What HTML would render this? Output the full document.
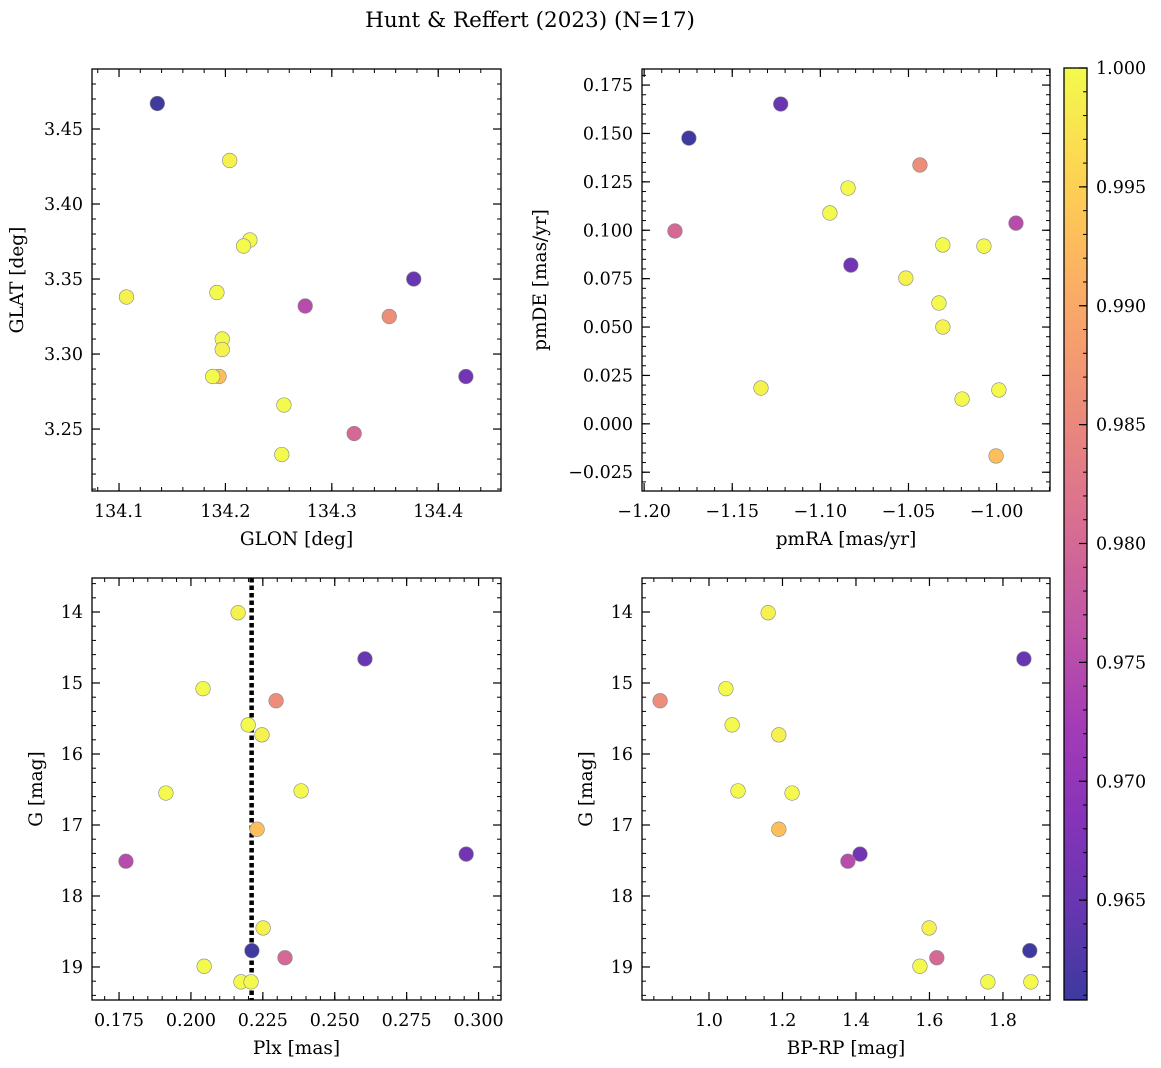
<!DOCTYPE html>
<html><head><meta charset="utf-8">
<style>
html,body{margin:0;padding:0;background:#fff;}
svg{display:block;font-family:"DejaVu Serif","Liberation Serif",serif;}
</style></head>
<body>
<svg id="fig" width="1161" height="1068" viewBox="0 0 1161 1068" xmlns="http://www.w3.org/2000/svg">
<rect width="1161" height="1068" fill="#fff"/>
<text x="530" y="27" font-size="21.5" text-anchor="middle">Hunt &amp; Reffert (2023) (N=17)</text>
</svg>
<script>
// ---- data (17 stars) ----
const glon = [134.136,134.377,134.426,134.275,134.321,134.354,134.194,134.204,134.223,134.217,134.107,134.192,134.197,134.197,134.188,134.255,134.253];
const glat = [3.467,3.350,3.285,3.332,3.247,3.325,3.285,3.429,3.376,3.372,3.338,3.341,3.310,3.303,3.285,3.266,3.233];
const pmra = [-1.1746,-1.1225,-1.0827,-0.9890,-1.1825,-1.0435,-1.0003,-1.1337,-1.0946,-1.0843,-1.0515,-1.0327,-1.0305,-1.0305,-1.0196,-1.0072,-0.9987];
const pmde = [0.1476,0.1652,0.082,0.1037,0.0996,0.1337,-0.0166,0.0185,0.1089,0.1218,0.0753,0.0624,0.0924,0.05,0.0128,0.0918,0.0175];
const plx = [0.2212,0.2605,0.2957,0.1774,0.2327,0.2296,0.2230,0.2164,0.2042,0.2199,0.2247,0.1913,0.2383,0.2251,0.2046,0.2174,0.2209];
const gmag = [18.77,14.66,17.41,17.51,18.87,15.25,17.06,14.01,15.08,15.59,15.73,16.55,16.52,18.45,18.99,19.21,19.21];
const bprp = [1.873,1.857,1.411,1.378,1.620,0.867,1.190,1.161,1.046,1.063,1.190,1.226,1.079,1.599,1.574,1.759,1.876];
const prob = [0.961,0.965,0.966,0.975,0.980,0.986,0.993,0.999,1.0,1.0,0.999,1.0,1.0,0.999,1.0,1.0,1.0];
const plxLine = 0.2211;
const cbTicks = [0.965,0.970,0.975,0.980,0.985,0.990,0.995,1.000];
const vmin = 0.9608, vmax = 1.0;

const NS="http://www.w3.org/2000/svg";
const svg=document.getElementById('fig');
function el(tag,attrs,parent){const e=document.createElementNS(NS,tag);for(const k in attrs)e.setAttribute(k,attrs[k]);(parent||svg).appendChild(e);return e;}
const stops=[[13,8,135],[65,4,157],[106,0,168],[143,13,164],[177,42,144],[204,71,120],[225,100,98],[242,132,75],[252,166,54],[252,206,37],[240,249,33]];
function plasma(t){t=Math.max(0,Math.min(1,t));const p=t*10,i=Math.min(9,Math.floor(p)),f=p-i;const a=stops[i],b=stops[i+1];
 const c=[0,1,2].map(k=>Math.round((a[k]+(b[k]-a[k])*f)*0.8+255*0.2));return `rgb(${c[0]},${c[1]},${c[2]})`;}
function fmt(v,d){let s=v.toFixed(d);if(parseFloat(s)===0)s=(0).toFixed(d);return s.replace('-','\u2212');}
const TF=17.5, LF=18.5;

function panel(o){
 const g=el('g',{});
 
 
 const X=v=>o.x0+(v-o.xmin)/(o.xmax-o.xmin)*(o.x1-o.x0);
 const Y=o.yinv? v=>o.y0+(v-o.ymin)/(o.ymax-o.ymin)*(o.y1-o.y0) : v=>o.y1-(v-o.ymin)/(o.ymax-o.ymin)*(o.y1-o.y0);
 const eps=1e-9;
 for(let k=Math.ceil(o.xmin/o.xmi-eps);k*o.xmi<=o.xmax+eps;k++){const x=X(k*o.xmi);
  el('line',{x1:x,x2:x,y1:o.y1,y2:o.y1-4,stroke:'#000','stroke-width':1},g);el('line',{x1:x,x2:x,y1:o.y0,y2:o.y0+4,stroke:'#000','stroke-width':1},g);}
 for(let k=Math.ceil(o.ymin/o.ymi-eps);k*o.ymi<=o.ymax+eps;k++){const y=Y(k*o.ymi);
  el('line',{x1:o.x0,x2:o.x0+4,y1:y,y2:y,stroke:'#000','stroke-width':1},g);el('line',{x1:o.x1,x2:o.x1-4,y1:y,y2:y,stroke:'#000','stroke-width':1},g);}
 for(let k=Math.ceil(o.xmin/o.xma-eps);k*o.xma<=o.xmax+eps;k++){const v=k*o.xma,x=X(v);
  el('line',{x1:x,x2:x,y1:o.y1,y2:o.y1-8,stroke:'#000','stroke-width':1.2},g);el('line',{x1:x,x2:x,y1:o.y0,y2:o.y0+8,stroke:'#000','stroke-width':1.2},g);
  const t=el('text',{x:x,y:o.y1+26,'font-size':TF,'text-anchor':'middle'},g);t.textContent=fmt(v,o.xd);
  
  }
 for(let k=Math.ceil(o.ymin/o.yma-eps);k*o.yma<=o.ymax+eps;k++){const v=k*o.yma,y=Y(v);
  el('line',{x1:o.x0,x2:o.x0+8,y1:y,y2:y,stroke:'#000','stroke-width':1.2},g);el('line',{x1:o.x1,x2:o.x1-8,y1:y,y2:y,stroke:'#000','stroke-width':1.2},g);
  const t=el('text',{x:o.x0-9,y:y+6,'font-size':TF,'text-anchor':'end'},g);t.textContent=fmt(v,o.yd);
  
  }
 if(o.vline!==undefined){const l=el('line',{x1:X(o.vline),x2:X(o.vline),y1:o.y0,y2:o.y1,stroke:'#000','stroke-width':4.5,'stroke-dasharray':'4.5,3'},g);
  
  }
 for(let i=0;i<o.xs.length;i++){
  const c=el('circle',{cx:X(o.xs[i]),cy:Y(o.ys[i]),r:7.3,fill:plasma((prob[i]-vmin)/(vmax-vmin)),stroke:'#888','stroke-width':0.6},g);
  
  
 }
 el('rect',{x:o.x0,y:o.y0,width:o.x1-o.x0,height:o.y1-o.y0,fill:'none',stroke:'#000','stroke-width':1.3},g);
 const xl=el('text',{x:(o.x0+o.x1)/2,y:o.y1+54,'font-size':LF,'text-anchor':'middle'},g);xl.textContent=o.xlabel;
 
 
 const yc=(o.y0+o.y1)/2;const yl=el('text',{x:o.ylx,y:yc,'font-size':LF,'text-anchor':'middle',transform:`rotate(-90 ${o.ylx} ${yc})`},g);yl.textContent=o.ylabel;
 
 
}
panel({name:'glon-glat-panel',x0:92,x1:501,y0:69,y1:491,xmin:134.0746,xmax:134.459,ymin:3.2087,ymax:3.49,xma:0.1,xmi:0.02,yma:0.05,ymi:0.01,xd:1,yd:2,xs:glon,ys:glat,xlabel:'GLON [deg]',ylabel:'GLAT [deg]',ylx:23});
panel({name:'proper-motion-panel',x0:642,x1:1050,y0:69,y1:491,xmin:-1.2012,xmax:-0.9697,ymin:-0.0347,ymax:0.1833,xma:0.05,xmi:0.01,yma:0.025,ymi:0.005,xd:2,yd:3,xs:pmra,ys:pmde,xlabel:'pmRA [mas/yr]',ylabel:'pmDE [mas/yr]',ylx:546});
panel({name:'parallax-magnitude-panel',x0:92,x1:501,y0:578,y1:1000,xmin:0.1656,xmax:0.3078,ymin:13.521,ymax:19.465,yinv:true,xma:0.025,xmi:0.005,yma:1,ymi:0.2,xd:3,yd:0,xs:plx,ys:gmag,xlabel:'Plx [mas]',ylabel:'G [mag]',ylx:42,vline:plxLine});
panel({name:'color-magnitude-panel',x0:642,x1:1050,y0:578,y1:1000,xmin:0.8177,xmax:1.928,ymin:13.521,ymax:19.465,yinv:true,xma:0.2,xmi:0.05,yma:1,ymi:0.2,xd:1,yd:0,xs:bprp,ys:gmag,xlabel:'BP-RP [mag]',ylabel:'G [mag]',ylx:592});

// colorbar
const cb=el('g',{});


const defs=el('defs',{},cb);const lg=el('linearGradient',{id:'cbg',x1:0,y1:1,x2:0,y2:0},defs);
for(let i=0;i<=20;i++)el('stop',{offset:i/20,'stop-color':plasma(i/20)},lg);
const cy0=68,cy1=1000,cx0=1064,cx1=1087;
const CY=v=>cy1-(v-vmin)/(vmax-vmin)*(cy1-cy0);
for(let k=961;k<=1000;k++){const y=CY(k/1000);el('line',{x1:cx1,x2:cx1-4,y1:y,y2:y,stroke:'#000','stroke-width':1},cb);}
el('rect',{x:cx0,y:cy0,width:cx1-cx0,height:cy1-cy0,fill:'url(#cbg)'},cb);
for(let k=961;k<=1000;k++){const y=CY(k/1000);el('line',{x1:cx1,x2:cx1-4,y1:y,y2:y,stroke:'#000','stroke-width':1},cb);}
cbTicks.forEach(v=>{const y=CY(v);el('line',{x1:cx1,x2:cx1-8,y1:y,y2:y,stroke:'#000','stroke-width':1.2},cb);
 const t=el('text',{x:cx1+9,y:y+6,'font-size':TF},cb);t.textContent=v.toFixed(3);
 
 });
el('rect',{x:cx0,y:cy0,width:cx1-cx0,height:cy1-cy0,fill:'none',stroke:'#000','stroke-width':1.3},cb);
</script>
</body></html>
